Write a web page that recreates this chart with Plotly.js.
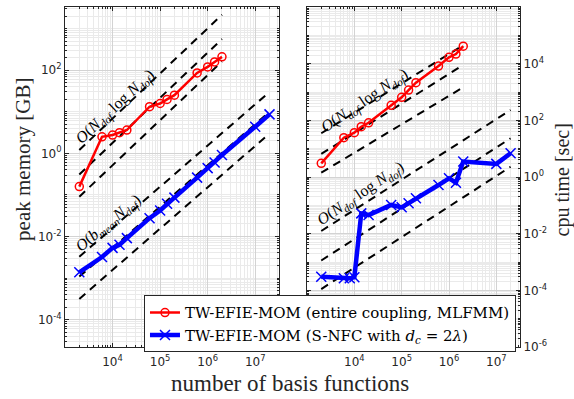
<!DOCTYPE html>
<html>
<head>
<meta charset="utf-8">
<script src="https://cdn.plot.ly/plotly-3.0.1.min.js"></script>
<style>html,body{margin:0;padding:0;background:#fff;}#chart{width:574px;height:399px;}</style>
</head>
<body>
<div id="chart"></div>
<script>
// ---- data ----
const N_mlfmm = [2000, 6000, 10000, 14000, 20000, 60000, 100000, 140000, 200000, 600000, 1000000, 1400000, 2000000];
const N_snfc = [2000, 6000, 10000, 14000, 20000, 60000, 100000, 140000, 200000, 600000, 1000000, 1400000, 2000000, 10000000, 20000000];
const N_snfc_cpu = [2000, 6000, 8000, 10000, 14000, 20000, 60000, 100000, 140000, 200000, 600000, 1000000, 1400000, 2000000, 10000000, 20000000];

const mem_mlfmm = [0.158, 2.5, 2.75, 3.13, 3.63, 13.2, 15.8, 19.8, 25.1, 86, 120, 158, 209];
const mem_snfc = [1.37e-3, 3.2e-3, 5.3e-3, 6.3e-3, 9.1e-3, 0.0275, 0.042, 0.061, 0.086, 0.26, 0.44, 0.60, 0.91, 4.35, 8.65];
const cpu_mlfmm = [3.04, 24.4, 36.6, 59.6, 82, 339, 650, 1170, 2140, 8260, 16700, 21900, 41600];
const cpu_snfc = [3.0e-4, 2.65e-4, 2.65e-4, 2.9e-4, 0.052, 0.0455, 0.103, 0.085, 0.118, 0.177, 0.52, 0.90, 0.63, 3.5, 2.9, 6.9];

// reference scaling guide lines (endpoints)
const guideN_mlfmm = [2000, 2000000];
const guideN_snfc = [2000, 20000000];
const memGuide_mlfmm = [[1.2, 2150], [0.31, 560], [0.09, 162]];
const memGuide_snfc = [[3.25e-3, 30], [1.08e-3, 10], [3.14e-4, 3.0]];
const cpuGuide_mlfmm = [[35, 45000], [6.5, 9000], [1.42, 1470]];
const cpuGuide_snfc = [[0.0124, 231], [1.13e-3, 23.2], [1.11e-4, 2.3]];

// tick labels
const xTickVals = [1e4, 1e5, 1e6, 1e7];
const xTickText = ['10<sup>4</sup>', '10<sup>5</sup>', '10<sup>6</sup>', '10<sup>7</sup>'];
const memTickVals = [1e-4, 1e-2, 1, 1e2];
const memTickText = ['10<sup>-4</sup>', '10<sup>-2</sup>', '10<sup>0</sup>', '10<sup>2</sup>'];
const cpuTickVals = [1e-6, 1e-4, 1e-2, 1, 1e2, 1e4, 1e6];
const cpuTickText = ['10<sup>-6</sup>', '10<sup>-4</sup>', '10<sup>-2</sup>', '10<sup>0</sup>', '10<sup>2</sup>', '10<sup>4</sup>', '10<sup>6</sup>'];

const legendNames = ['TW-EFIE-MOM (entire coupling, MLFMM)', 'TW-EFIE-MOM (S-NFC with <i>d</i><sub><i>c</i></sub> = 2<i>λ</i>)'];
const xTitle = 'number of basis functions';
const memTitle = 'peak memory [GB]';
const cpuTitle = 'cpu time [sec]';

// ---- helpers ----
function minorVals(lo, hi, majors) {
  const out = [];
  for (let n = lo; n <= hi; n++) {
    for (let k = 1; k <= 9; k++) {
      const v = k * Math.pow(10, n);
      if (!majors.some(m => Math.abs(m - v) / v < 1e-9)) out.push(v);
    }
  }
  return out;
}

const AX = '#262626';
const SERIF = 'Liberation Serif, Times New Roman, serif';
const SANS = 'DejaVu Sans, Arial, sans-serif';

function logAxis(range, tv, tt, minorTv, extra) {
  return Object.assign({
    type: 'log', range: range, autorange: false,
    tickmode: 'array', tickvals: tv, ticktext: tt,
    ticks: 'inside', ticklen: 4, tickwidth: 1, tickcolor: AX,
    showline: true, linecolor: AX, linewidth: 1, mirror: 'ticks',
    showgrid: true, gridcolor: '#d3d3d3', gridwidth: 1,
    zeroline: false,
    tickfont: {family: SANS, size: 12, color: AX},
    minor: {tickmode: 'array', tickvals: minorTv, ticks: 'inside', ticklen: 2, tickcolor: AX,
            showgrid: true, gridcolor: '#eaeaea', gridwidth: 1}
  }, extra || {});
}

const traces = [];
function guide(xs, pair, xa, ya) {
  traces.push({x: xs, y: pair, xaxis: xa, yaxis: ya, mode: 'lines', showlegend: false,
               line: {color: '#000', width: 2, dash: '8px,6px'}, hoverinfo: 'skip'});
}
memGuide_mlfmm.forEach(p => guide(guideN_mlfmm, p, 'x', 'y'));
memGuide_snfc.forEach(p => guide(guideN_snfc, p, 'x', 'y'));
cpuGuide_mlfmm.forEach(p => guide(guideN_mlfmm, p, 'x2', 'y2'));
cpuGuide_snfc.forEach(p => guide(guideN_snfc, p, 'x2', 'y2'));

const redStyle = {mode: 'lines+markers', line: {color: '#ff0000', width: 2.5},
  marker: {symbol: 'circle-open', size: 8, color: '#ff0000', line: {width: 1.5, color: '#ff0000'}}};
const blueStyle = {mode: 'lines+markers', line: {color: '#0000ff', width: 4.5},
  marker: {symbol: 'x-thin-open', size: 10, color: '#0000ff', line: {width: 1.5, color: '#0000ff'}}};

traces.push(Object.assign({x: N_mlfmm, y: mem_mlfmm, xaxis: 'x', yaxis: 'y', name: legendNames[0], legendgroup: 'a'}, redStyle));
traces.push(Object.assign({x: N_snfc, y: mem_snfc, xaxis: 'x', yaxis: 'y', name: legendNames[1], legendgroup: 'b'}, blueStyle));
traces.push(Object.assign({x: N_mlfmm, y: cpu_mlfmm, xaxis: 'x2', yaxis: 'y2', name: legendNames[0], legendgroup: 'a', showlegend: false}, redStyle));
traces.push(Object.assign({x: N_snfc_cpu, y: cpu_snfc, xaxis: 'x2', yaxis: 'y2', name: legendNames[1], legendgroup: 'b', showlegend: false}, blueStyle));

const xMinor = minorVals(3, 7, xTickVals);
const memMinor = minorVals(-5, 3, memTickVals);
const cpuMinor = minorVals(-6, 5, cpuTickVals);

const annFont = {family: SERIF, size: 16, color: '#000'};
const titleFont = {family: SERIF, size: 21, color: AX};
const layout = {
  width: 574, height: 399,
  margin: {l: 65, r: 54, t: 7, b: 52, pad: 0},
  paper_bgcolor: '#fff', plot_bgcolor: '#fff',
  showlegend: true,
  legend: {x: 0.1736, y: 0.152, xanchor: 'left', yanchor: 'top',
           bgcolor: '#fff', bordercolor: AX, borderwidth: 1,
           font: {family: 'DejaVu Serif, serif', size: 15, color: '#000'}, tracegroupgap: 0, itemwidth: 30},
  xaxis: logAxis([3, 7.5], xTickVals, xTickText, xMinor, {domain: [0, 0.4703], anchor: 'y', ticklabelstandoff: 4}),
  yaxis: logAxis([-4.66, 3.52], memTickVals, memTickText, memMinor, {anchor: 'x'}),
  xaxis2: logAxis([3, 7.5], xTickVals, xTickText, xMinor, {domain: [0.5319, 1], anchor: 'y2', ticklabelstandoff: 4}),
  yaxis2: logAxis([-6, 6], cpuTickVals, cpuTickText, cpuMinor, {anchor: 'x2', side: 'right'}),
  annotations: [
    {xref: 'paper', yref: 'paper', x: 0.4945, y: -0.107, xanchor: 'center', yanchor: 'middle', showarrow: false,
     text: xTitle, font: {family: SERIF, size: 23, color: AX}},
    {xref: 'paper', yref: 'paper', x: -0.094, y: 0.551, xanchor: 'center', yanchor: 'middle', showarrow: false,
     textangle: -90, text: memTitle, font: titleFont},
    {xref: 'paper', yref: 'paper', x: 1.0925, y: 0.49, xanchor: 'center', yanchor: 'middle', showarrow: false,
     textangle: -90, text: cpuTitle, font: {family: SERIF, size: 20, color: AX}},
    {xref: 'x', yref: 'y', x: 4.065, y: 1.119, showarrow: false, textangle: -43, font: annFont,
     text: '<i>O</i>(<i>N</i><sub><i>dof</i></sub> log <i>N</i><sub><i>dof</i></sub>)'},
    {xref: 'x', yref: 'y', x: 3.91, y: -1.696, showarrow: false, textangle: -40, font: annFont,
     text: '<i>O</i>(<i>b</i><sub><i>mean</i></sub><i>N</i><sub><i>dof</i></sub>)'},
    {xref: 'x2', yref: 'y2', x: 4.224, y: 2.717, showarrow: false, textangle: -34, font: annFont,
     text: '<i>O</i>(<i>N</i><sub><i>dof</i></sub> log <i>N</i><sub><i>dof</i></sub>)'},
    {xref: 'x2', yref: 'y2', x: 4.139, y: -0.566, showarrow: false, textangle: -34, font: annFont,
     text: '<i>O</i>(<i>N</i><sub><i>dof</i></sub> log <i>N</i><sub><i>dof</i></sub>)'}
  ]
};

Plotly.newPlot('chart', traces, layout, {staticPlot: true, displayModeBar: false});
</script>
</body>
</html>
